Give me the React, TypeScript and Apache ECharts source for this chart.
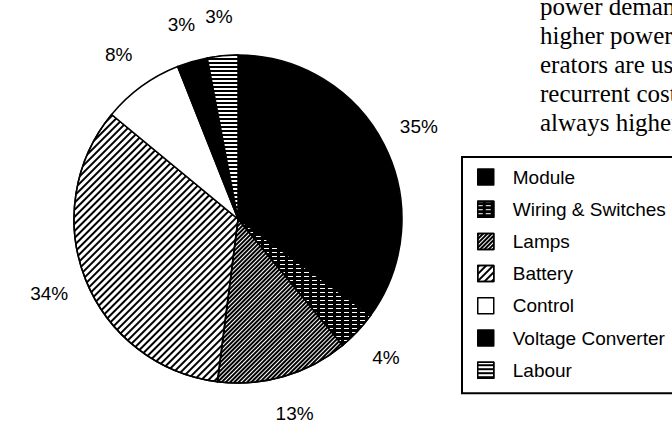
import React, { useEffect, useRef } from "react";
import * as echarts from "echarts";

const categories = [
  "Module",
  "Wiring & Switches",
  "Lamps",
  "Battery",
  "Control",
  "Voltage Converter",
  "Labour",
];
const shares = [35, 4, 13, 34, 8, 3, 3];
const bodyLines = [
  "power demand",
  "higher power",
  "erators are used",
  "recurrent costs",
  "always higher",
];

const baseFills = ["#000", "#000", "#fff", "#fff", "#fff", "#000", "#000"];

function buildDecals(): any[] {
  const common = { symbol: "rect", symbolSize: 1, symbolKeepAspect: false };
  return [
    null,
    { ...common, color: "#fff", backgroundColor: "#000", dashArrayX: [5, 3], dashArrayY: [1, 3], rotation: 0 },
    { ...common, color: "#000", backgroundColor: "#fff", dashArrayX: [1, 0], dashArrayY: [2, 1], rotation: -Math.PI / 4 },
    { ...common, color: "#000", backgroundColor: "#fff", dashArrayX: [1, 0], dashArrayY: [1.5, 3], rotation: -Math.PI / 4 },
    null,
    null,
    { ...common, color: "#fff", backgroundColor: "#000", dashArrayX: [1, 0], dashArrayY: [2, 2], rotation: 0 },
  ];
}

export default function App() {
  const ref = useRef<HTMLDivElement>(null);
  useEffect(() => {
    if (!ref.current) return;
    const chart = echarts.init(ref.current, undefined, { renderer: "svg" });
    const decals = buildDecals();
    const pieData = categories.map((name, i) => ({
      name,
      value: shares[i],
      itemStyle: decals[i]
        ? { color: baseFills[i], decal: decals[i] }
        : { color: baseFills[i] },
    }));
    const labelData = categories.map((name, i) => ({ name, value: shares[i] }));
    chart.setOption({
      animation: false,
      backgroundColor: "#fff",
      legend: {
        data: categories,
        orient: "vertical",
        left: 462,
        top: 157,
        padding: [10, 14, 13, 15],
        itemWidth: 16,
        itemHeight: 16,
        itemGap: 12.2,
        icon: "rect",
        borderColor: "#000",
        borderWidth: 2,
        selectedMode: false,
        itemStyle: { borderColor: "#000", borderWidth: 1.5 },
        textStyle: {
          fontFamily: "Liberation Sans",
          fontSize: 19,
          lineHeight: 20,
          color: "#000",
          padding: [0, 0, 0, 14],
        },
      },
      graphic: bodyLines.map((t, i) => ({
        type: "text",
        x: 540,
        y: 6 + i * 29,
        silent: true,
        style: {
          text: t,
          font: '25px "Liberation Serif"',
          fill: "#000",
          verticalAlign: "middle",
        },
      })),
      series: [
        {
          type: "pie",
          center: [238, 219],
          radius: [0, 164],
          startAngle: 90,
          clockwise: true,
          silent: true,
          label: { show: false },
          labelLine: { show: false },
          emphasis: { disabled: true },
          itemStyle: { borderColor: "#000", borderWidth: 1.5 },
          data: pieData,
        },
        {
          type: "pie",
          center: [238, 219],
          radius: [186, 214],
          startAngle: 90,
          clockwise: true,
          silent: true,
          legendHoverLink: false,
          emphasis: { disabled: true },
          itemStyle: { color: "rgba(0,0,0,0)", borderWidth: 0 },
          labelLine: { show: false },
          label: {
            show: true,
            position: "inside",
            rotate: 0,
            formatter: "{c}%",
            fontFamily: "Liberation Sans",
            fontSize: 19,
            color: "#000",
          },
          data: labelData,
        },
      ],
    });
    return () => chart.dispose();
  }, []);
  return (
    <div
      ref={ref}
      style={{ position: "fixed", left: 0, top: 0, width: 672, height: 425 }}
    />
  );
}
